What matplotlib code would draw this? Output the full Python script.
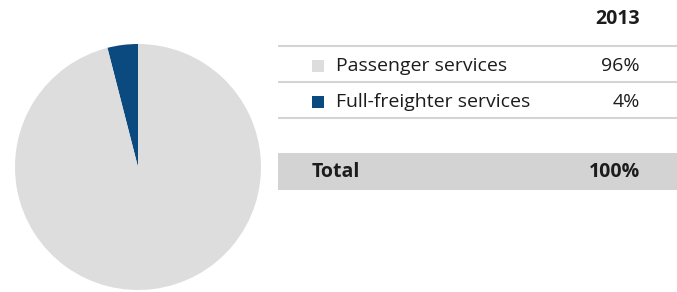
import matplotlib
matplotlib.use("Agg")
import matplotlib.pyplot as plt
from matplotlib.patches import Rectangle

categories = ["Passenger services", "Full-freighter services"]
shares = [96, 4]
colors = ["#dcdddc", "#0b4a7f"]
year_label = "2013"
total_label = "Total"
total_value = sum(shares)

W, H = 677, 292
fig = plt.figure(figsize=(W / 100, H / 100), dpi=100)
fig.patch.set_facecolor("white")
plt.rcParams['font.family'] = ['Open Sans', 'DejaVu Sans']

# Pie
cx, cy, r = 138, 167, 123
axp = fig.add_axes([(cx - r) / W, (H - cy - r) / H, 2 * r / W, 2 * r / H])
axp.pie(shares[::-1], colors=colors[::-1], startangle=90, counterclock=True,
        radius=1.0, wedgeprops=dict(linewidth=0))
axp.set_xlim(-1, 1)
axp.set_ylim(-1, 1)
axp.set_aspect("equal")
axp.axis("off")

# Table
ax = fig.add_axes([0, 0, 1, 1])
ax.set_xlim(0, W)
ax.set_ylim(H, 0)
ax.axis("off")

line_col = "#d4d4d4"
x0, x1 = 278, W
xval = 640
fs = 14
tc = "#1c1c1c"

ax.text(xval, 19, year_label, ha="right", va="center", fontsize=fs, fontweight="bold", color=tc)
for y in [46, 82, 118]:
    ax.plot([x0, x1], [y, y], color=line_col, lw=1.5, solid_capstyle="butt")

row_y = [66, 102]
for cat, val, col, y in zip(categories, shares, colors, row_y):
    ax.add_patch(Rectangle((312, y - 6), 12, 12, facecolor=col, edgecolor="none"))
    ax.text(336, y, cat, ha="left", va="center", fontsize=fs, color=tc)
    ax.text(xval, y, f"{val}%", ha="right", va="center", fontsize=fs, color=tc)

ax.add_patch(Rectangle((x0, 153), x1 - x0, 37, facecolor="#d3d3d3", edgecolor="none"))
ax.text(312, 172, total_label, ha="left", va="center", fontsize=fs, fontweight="bold", color=tc)
ax.text(xval, 172, f"{total_value}%", ha="right", va="center", fontsize=fs, fontweight="bold", color=tc)

fig.savefig("out.png", dpi=100, facecolor="white")
